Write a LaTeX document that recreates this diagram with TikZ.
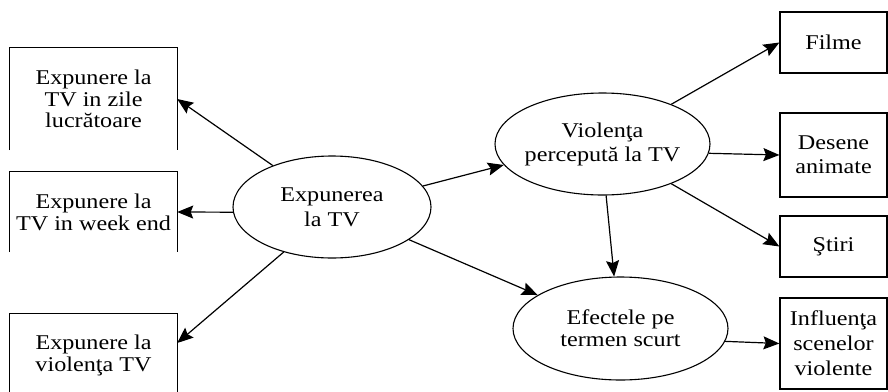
\documentclass[tikz,border=0pt]{standalone}
\usepackage{fontspec}
\setmainfont[FakeStretch=1.15]{Liberation Serif}
\usetikzlibrary{arrows.meta,shapes.geometric}
\begin{document}
\begin{tikzpicture}[x=1pt,y=-1pt,
  txt/.style={font=\fontsize{21}{23}\selectfont, align=center, inner sep=0pt},
  lbox/.style={txt, minimum width=167pt},
  rbox/.style={txt, draw, line width=1.2pt, minimum width=107pt},
  openbox/.style={line width=1.2pt},
  ell/.style={ellipse, draw, line width=1.1pt, inner sep=0pt, minimum width=#1},
  conn/.style={line width=1.2pt, -{Stealth[length=16pt,width=13pt,inset=2.5pt]}}
]
\useasboundingbox (0,0) rectangle (888,391);

% left boxes (drawn open at the bottom, as printed)
\node[lbox, minimum height=102pt, font=\fontsize{21}{21.5}\selectfont] (b1) at (93.5,99) {Expunere la\\TV in zile\\lucrătoare};
\node[lbox, minimum height=80pt, font=\fontsize{21}{22}\selectfont] (b2) at (93.5,212) {Expunere la\\TV in week end};
\node[lbox, minimum height=82pt, font=\fontsize{21}{22}\selectfont] (b3) at (93.5,355) {Expunere la\\violenţa TV};
\draw[openbox] (b1.south west) -- (b1.north west) -- (b1.north east) -- (b1.south east);
\draw[openbox] (b2.south west) -- (b2.north west) -- (b2.north east) -- (b2.south east);
\draw[openbox] (b3.south west) -- (b3.north west) -- (b3.north east) -- (b3.south east);

% ellipses
\node[ell=198pt, minimum height=102pt] (e1) at (332,207) {};
\node[txt, font=\fontsize{21}{25}\selectfont] (e1t) at (e1) {Expunerea\\la TV};
\node[ell=215pt, minimum height=102pt] (e2) at (602.5,144) {};
\node[txt, font=\fontsize{21}{24}\selectfont] (e2t) at (e2) {Violenţa\\percepută la TV};
\node[ell=215pt, minimum height=103pt] (e3) at (620.5,328.5) {};
\node[txt, font=\fontsize{21}{22}\selectfont] (e3t) at (e3) {Efectele pe\\termen scurt};

% right boxes
\node[rbox, minimum height=61pt] (r1) at (833.5,42.5) {Filme};
\node[rbox, minimum height=84pt, font=\fontsize{21}{24}\selectfont] (r2) at (833.5,155) {Desene\\animate};
\node[rbox, minimum height=61pt] (r3) at (833.5,246.5) {Ştiri};
\node[rbox, minimum height=91pt, font=\fontsize{21}{25}\selectfont] (r4) at (833.5,343.5) {Influenţa\\scenelor\\violente};

% connectors
\draw[conn] (e1.145) -- (b1.east);
\draw[conn] (e1.183) -- (b2.east);
\draw[conn] (e1.223) -- ([yshift=12pt]b3.east);
\draw[conn] (e1.13) -- (e2.192);
\draw[conn] (e1.-23) -- (e3.158);
\draw[conn] (e2.-86) -- (e3.97);
\draw[conn] (e2.30) -- (r1.west);
\draw[conn] (e2.-5) -- (r2.west);
\draw[conn] (e2.-30.5) -- (r3.west);
\draw[conn] (e3.-7) -- (r4.west);
\end{tikzpicture}
\end{document}
